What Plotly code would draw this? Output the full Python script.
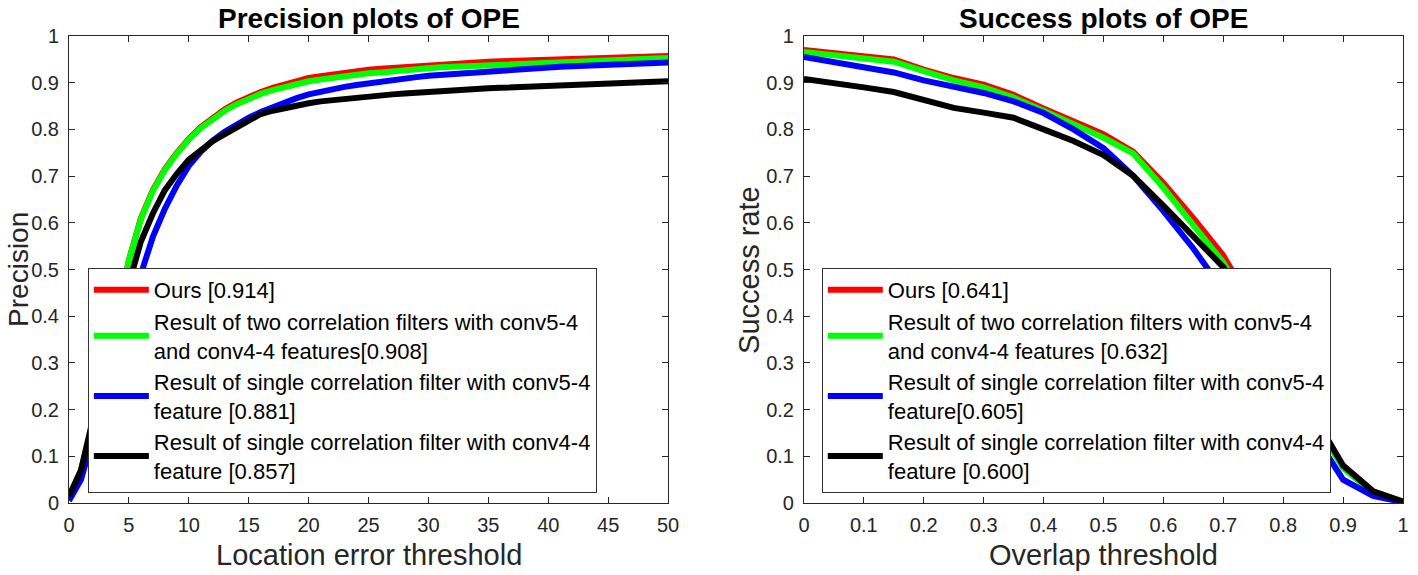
import plotly.graph_objects as go

# ---------------- data ----------------
prec_x = list(range(0, 51))
prec_ours = [0.010, 0.070, 0.170, 0.280, 0.400, 0.520, 0.610, 0.670, 0.715, 0.750,
             0.780, 0.805, 0.826, 0.843, 0.858, 0.870, 0.880, 0.889, 0.897, 0.904,
             0.910, 0.914, 0.918, 0.922, 0.925, 0.928, 0.930, 0.932, 0.934, 0.936,
             0.938, 0.940, 0.941, 0.943, 0.944, 0.945, 0.946, 0.947, 0.948, 0.949,
             0.950, 0.951, 0.952, 0.953, 0.954, 0.954, 0.955, 0.955, 0.956, 0.956,
             0.957]
prec_two = [0.010, 0.070, 0.170, 0.280, 0.400, 0.520, 0.608, 0.668, 0.713, 0.748,
            0.778, 0.803, 0.823, 0.840, 0.854, 0.866, 0.876, 0.884, 0.891, 0.897,
            0.903, 0.907, 0.911, 0.914, 0.917, 0.920, 0.922, 0.925, 0.927, 0.929,
            0.931, 0.933, 0.934, 0.936, 0.937, 0.939, 0.940, 0.941, 0.942, 0.943,
            0.944, 0.945, 0.946, 0.947, 0.948, 0.949, 0.950, 0.951, 0.952, 0.952,
            0.953]
prec_c54 = [0.005, 0.050, 0.140, 0.230, 0.320, 0.410, 0.490, 0.570, 0.630, 0.680,
            0.722, 0.752, 0.776, 0.795, 0.811, 0.825, 0.837, 0.848, 0.858, 0.867,
            0.875, 0.881, 0.886, 0.891, 0.895, 0.899, 0.903, 0.906, 0.909, 0.912,
            0.915, 0.917, 0.919, 0.921, 0.923, 0.925, 0.927, 0.929, 0.930, 0.932,
            0.933, 0.934, 0.935, 0.936, 0.937, 0.938, 0.939, 0.940, 0.941, 0.942,
            0.943]
prec_c44 = [0.015, 0.070, 0.180, 0.290, 0.390, 0.470, 0.560, 0.620, 0.670, 0.705,
            0.735, 0.755, 0.775, 0.790, 0.805, 0.820, 0.833, 0.840, 0.846, 0.851,
            0.856, 0.860, 0.863, 0.866, 0.869, 0.871, 0.873, 0.875, 0.877, 0.879,
            0.881, 0.882, 0.884, 0.885, 0.887, 0.888, 0.889, 0.890, 0.891, 0.892,
            0.893, 0.894, 0.895, 0.896, 0.897, 0.898, 0.899, 0.900, 0.901, 0.902,
            0.903]

succ_x = [0.00, 0.05, 0.10, 0.15, 0.20, 0.25, 0.30, 0.35, 0.40, 0.45, 0.50,
          0.55, 0.60, 0.65, 0.70, 0.75, 0.80, 0.85, 0.90, 0.95, 1.00]
succ_ours = [0.970, 0.963, 0.957, 0.950, 0.928, 0.910, 0.896, 0.874, 0.845, 0.818, 0.790,
             0.752, 0.685, 0.610, 0.530, 0.420, 0.300, 0.185, 0.080, 0.025, 0.003]
succ_two = [0.966, 0.960, 0.953, 0.945, 0.925, 0.905, 0.890, 0.868, 0.840, 0.810, 0.782,
            0.748, 0.675, 0.595, 0.515, 0.405, 0.290, 0.180, 0.075, 0.022, 0.003]
succ_c54 = [0.955, 0.945, 0.935, 0.922, 0.905, 0.893, 0.878, 0.860, 0.835, 0.800, 0.760,
            0.700, 0.625, 0.545, 0.455, 0.350, 0.245, 0.150, 0.050, 0.015, 0.002]
succ_c44 = [0.908, 0.900, 0.890, 0.880, 0.862, 0.846, 0.836, 0.825, 0.800, 0.775, 0.745,
            0.700, 0.637, 0.573, 0.505, 0.400, 0.290, 0.190, 0.080, 0.025, 0.003]

prec_names = ["Ours [0.914]",
              "Result of two correlation filters with conv5-4<br>and conv4-4 features[0.908]",
              "Result of single correlation filter with conv5-4<br>feature [0.881]",
              "Result of single correlation filter with conv4-4<br>feature [0.857]"]
succ_names = ["Ours [0.641]",
              "Result of two correlation filters with conv5-4<br>and conv4-4 features [0.632]",
              "Result of single correlation filter with conv5-4<br>feature[0.605]",
              "Result of single correlation filter with conv4-4<br>feature [0.600]"]
colors = ["#ff0000", "#00ff00", "#0000ff", "#000000"]

# ---------------- figure ----------------
W, H = 1418, 575
ML, MR, MT, MB = 69, 4, 36, 72
PW, PH = W - ML - MR, H - MT - MB

def px(x):
    # page pixel -> paper x
    return (x - ML) / PW

def py(y):
    # page pixel -> paper y
    return (H - MB - y) / PH

FONT = "Liberation Sans, Arial, Helvetica, sans-serif"
AX = "#262626"

fig = go.Figure()
for ys, nm, c in zip([prec_ours, prec_two, prec_c54, prec_c44], prec_names, colors):
    fig.add_trace(go.Scatter(x=prec_x, y=ys, mode="lines", name=nm,
                             line=dict(color=c, width=6), xaxis="x", yaxis="y",
                             legend="legend"))
for ys, nm, c in zip([succ_ours, succ_two, succ_c54, succ_c44], succ_names, colors):
    fig.add_trace(go.Scatter(x=succ_x, y=ys, mode="lines", name=nm,
                             line=dict(color=c, width=6), xaxis="x2", yaxis="y2",
                             legend="legend2"))

axcommon = dict(showline=True, linecolor=AX, linewidth=1, mirror="ticks",
                ticks="inside", ticklen=6, tickcolor=AX, tickwidth=1,
                showgrid=False, zeroline=False,
                tickfont=dict(family=FONT, size=20, color=AX))

fig.update_layout(
    width=W, height=H,
    margin=dict(l=ML, r=MR, t=MT, b=MB),
    paper_bgcolor="white", plot_bgcolor="white",
    showlegend=True,
    xaxis=dict(domain=[0, px(673)], range=[0, 50], tickmode="linear", tick0=0, dtick=5,
               anchor="y", ticklabelstandoff=4, **axcommon),
    yaxis=dict(domain=[0, 1], range=[0, 1], tickmode="linear", tick0=0, dtick=0.1,
               anchor="x", ticklabelstandoff=5, **axcommon),
    xaxis2=dict(domain=[px(810), 1], range=[0, 1], tickmode="linear", tick0=0, dtick=0.1,
                anchor="y2", ticklabelstandoff=4, **axcommon),
    yaxis2=dict(domain=[0, 1], range=[0, 1], tickmode="linear", tick0=0, dtick=0.1,
                anchor="x2", ticklabelstandoff=5, **axcommon),
    legend=dict(x=px(88), y=py(268), xanchor="left", yanchor="top",
                bgcolor="white", bordercolor="#333333", borderwidth=1,
                font=dict(family=FONT, size=22, color="black"),
                itemwidth=55, tracegroupgap=0),
    legend2=dict(x=px(828), y=py(268), xanchor="left", yanchor="top",
                 bgcolor="white", bordercolor="#333333", borderwidth=1,
                 font=dict(family=FONT, size=22, color="black"),
                 itemwidth=55, tracegroupgap=0),
)

ann = []
ann.append(dict(text="<b>Precision plots of OPE</b>", x=px((69 + 673) / 2), y=py(19),
                xref="paper", yref="paper", showarrow=False, xanchor="center",
                yanchor="middle", font=dict(family=FONT, size=28, color="black")))
ann.append(dict(text="<b>Success plots of OPE</b>", x=px((810 + 1414) / 2), y=py(19),
                xref="paper", yref="paper", showarrow=False, xanchor="center",
                yanchor="middle", font=dict(family=FONT, size=28, color="black")))
ann.append(dict(text="Location error threshold", x=px((69 + 673) / 2), y=py(555),
                xref="paper", yref="paper", showarrow=False, xanchor="center",
                yanchor="middle", font=dict(family=FONT, size=29, color=AX)))
ann.append(dict(text="Overlap threshold", x=px((810 + 1414) / 2), y=py(555),
                xref="paper", yref="paper", showarrow=False, xanchor="center",
                yanchor="middle", font=dict(family=FONT, size=29, color=AX)))
ann.append(dict(text="Precision", x=px(18), y=0.5, textangle=-90,
                xref="paper", yref="paper", showarrow=False, xanchor="center",
                yanchor="middle", font=dict(family=FONT, size=28, color=AX)))
ann.append(dict(text="Success rate", x=px(754), y=0.5, textangle=-90,
                xref="paper", yref="paper", showarrow=False, xanchor="center",
                yanchor="middle", font=dict(family=FONT, size=29, color=AX)))
fig.update_layout(annotations=ann)

# remove the default 8px page margin so the figure fills the window exactly
fig.write_html("out.html", config={"displayModeBar": False},
               post_script="document.body.style.margin='0';")
